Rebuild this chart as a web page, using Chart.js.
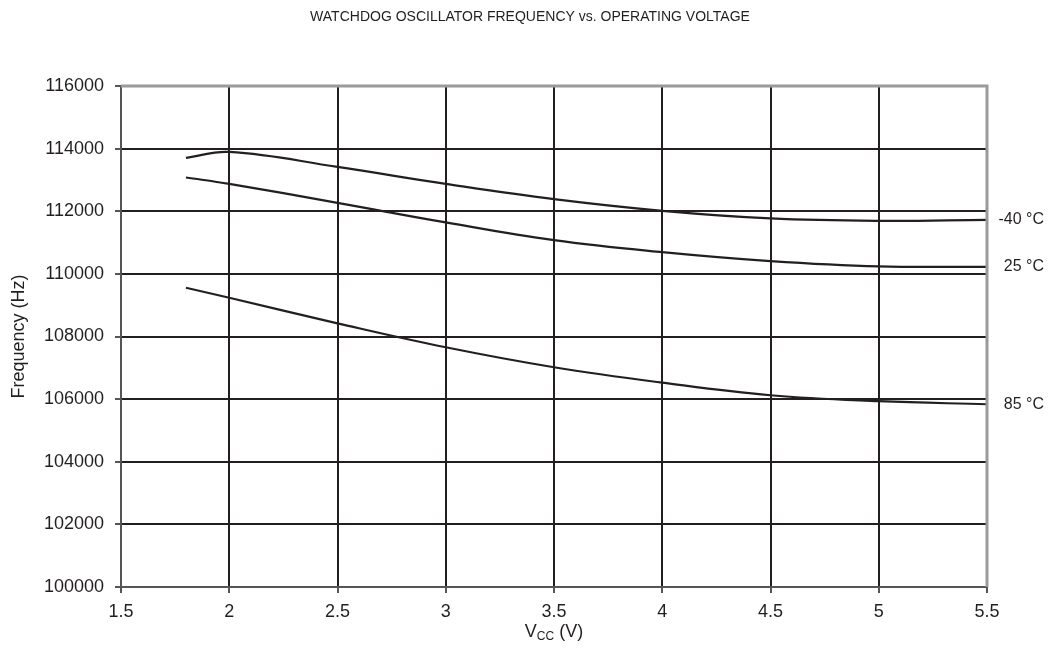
<!DOCTYPE html>
<html lang="en">
<head>
<meta charset="UTF-8">
<title>Watchdog Oscillator Frequency vs. Operating Voltage</title>
<script src="https://cdn.jsdelivr.net/npm/chart.js@4.4.0/dist/chart.umd.min.js"></script>
<style>
  html, body { margin: 0; padding: 0; background: #fff; }
  #wrap { width: 1060px; height: 664px; }
</style>
</head>
<body>
<div id="wrap"><canvas id="wdtChart" width="1060" height="664"></canvas></div>
<script>
// Supply voltage (V)
const vcc = [1.8, 2.0, 2.5, 3.0, 3.5, 4.0, 4.5, 5.0, 5.5];

// Frequency (Hz) per temperature
const freqMinus40 = [113703, 113895, 113416, 112874, 112386, 112013, 111770, 111694, 111726];
const freq25 = [113078, 112874, 112268, 111643, 111078, 110695, 110408, 110239, 110226];
const freq85 = [109557, 109238, 108421, 107656, 107018, 106526, 106124, 105933, 105837];

const seriesLabels = ['-40 °C', '25 °C', '85 °C'];
const xTicks = [1.5, 2, 2.5, 3, 3.5, 4, 4.5, 5, 5.5];
const yTicks = [100000, 102000, 104000, 106000, 108000, 110000, 112000, 114000, 116000];

const FONT = '"Liberation Sans", Arial, Helvetica, sans-serif';
const INK = '#231f20';

const toPoints = (ys) => vcc.map((v, i) => ({ x: v, y: ys[i] }));

// titre, axes et étiquettes dessinés à la main
const decorations = {
  id: 'decorations',
  afterDraw(chart) {
    const { ctx, chartArea: a, scales } = chart;
    ctx.save();

    // bord haut et droit gris
    ctx.strokeStyle = '#9a9a9a';
    ctx.lineWidth = 3;
    ctx.beginPath();
    ctx.moveTo(a.left, a.top);
    ctx.lineTo(a.right, a.top);
    ctx.lineTo(a.right, a.bottom);
    ctx.stroke();

    ctx.fillStyle = INK;

    // titre
    ctx.font = '14px ' + FONT;
    ctx.textAlign = 'center';
    ctx.textBaseline = 'middle';
    ctx.fillText('WATCHDOG OSCILLATOR FREQUENCY vs. OPERATING VOLTAGE', 530, 17);

    // étiquettes des courbes
    ctx.font = '16px ' + FONT;
    ctx.textAlign = 'right';
    chart.data.datasets.forEach((ds) => {
      const last = ds.data[ds.data.length - 1];
      ctx.fillText(ds.label, 1044, scales.y.getPixelForValue(last.y));
    });

    // titre axe Y
    ctx.font = '18px ' + FONT;
    ctx.textAlign = 'center';
    ctx.save();
    ctx.translate(19, (a.top + a.bottom) / 2);
    ctx.rotate(-Math.PI / 2);
    ctx.fillText('Frequency (Hz)', 0, 0);
    ctx.restore();

    // titre axe X : V avec indice CC
    const cx = (a.left + a.right) / 2;
    const y0 = 632;
    ctx.textAlign = 'left';
    ctx.font = '18px ' + FONT;
    const wV = ctx.measureText('V').width;
    const wRest = ctx.measureText(' (V)').width;
    ctx.font = '12px ' + FONT;
    const wSub = ctx.measureText('CC').width;
    let x = cx - (wV + wSub + wRest) / 2;
    ctx.font = '18px ' + FONT;
    ctx.fillText('V', x, y0);
    x += wV;
    ctx.font = '12px ' + FONT;
    ctx.fillText('CC', x, y0 + 5);
    x += wSub;
    ctx.font = '18px ' + FONT;
    ctx.fillText(' (V)', x, y0);

    ctx.restore();
  }
};

const makeDataset = (label, ys) => ({
  label,
  data: toPoints(ys),
  borderColor: INK,
  borderWidth: 2.2,
  pointRadius: 0,
  tension: 0.4,
  fill: false
});

new Chart(document.getElementById('wdtChart'), {
  type: 'line',
  data: {
    datasets: [
      makeDataset(seriesLabels[0], freqMinus40),
      makeDataset(seriesLabels[1], freq25),
      makeDataset(seriesLabels[2], freq85)
    ]
  },
  options: {
    responsive: false,
    animation: false,
    layout: { padding: { top: 86, right: 73, left: 0, bottom: 0 } },
    plugins: {
      legend: { display: false },
      tooltip: { enabled: false }
    },
    scales: {
      x: {
        type: 'linear',
        min: 1.5,
        max: 5.5,
        afterBuildTicks: (s) => { s.ticks = xTicks.map(v => ({ value: v })); },
        afterFit: (s) => { s.height = 77; },
        ticks: {
          color: INK,
          padding: 8,
          font: { family: FONT, size: 18 },
          callback: (v) => String(v)
        },
        grid: {
          color: (c) => (c.tick && c.tick.value === 5.5 ? 'rgba(0,0,0,0)' : INK),
          lineWidth: 2,
          tickLength: 6,
          tickColor: '#555'
        },
        border: { color: '#555', width: 2 }
      },
      y: {
        min: 100000,
        max: 116000,
        afterBuildTicks: (s) => { s.ticks = yTicks.map(v => ({ value: v })); },
        afterFit: (s) => { s.width = 121; },
        ticks: {
          color: INK,
          padding: 11,
          font: { family: FONT, size: 18 },
          callback: (v) => String(v)
        },
        grid: {
          color: (c) => (c.tick && c.tick.value === 116000 ? 'rgba(0,0,0,0)' : INK),
          lineWidth: 2,
          tickLength: 6,
          tickColor: '#555'
        },
        border: { color: '#555', width: 2 }
      }
    }
  },
  plugins: [decorations]
});
</script>
</body>
</html>
